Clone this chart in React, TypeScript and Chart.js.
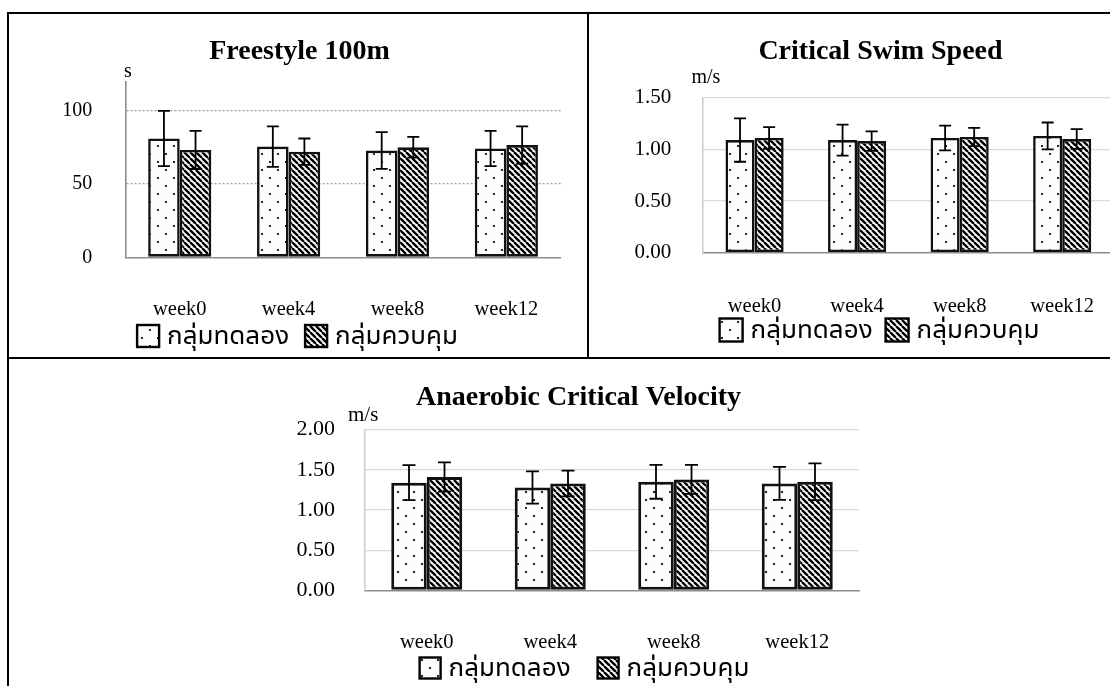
import React, { useEffect, useRef } from 'react';
import { Chart, registerables } from 'chart.js';

Chart.register(...registerables);

// ---------------- data ----------------
const categories = ['week0', 'week4', 'week8', 'week12'];
const seriesNames = ['กลุ่มทดลอง', 'กลุ่มควบคุม'];

// Freestyle 100m (s)
const fsExpMean = [81, 75.5, 72.8, 74.2];
const fsExpSd = [18.8, 13.8, 12.5, 12];
const fsCtrlMean = [73.2, 72, 75, 76.5];
const fsCtrlSd = [13, 9, 7.1, 12.7];
const fsTicks = [0, 50, 100];

// Critical Swim Speed (m/s)
const cssExpMean = [1.09, 1.09, 1.11, 1.13];
const cssExpSd = [0.21, 0.15, 0.12, 0.13];
const cssCtrlMean = [1.11, 1.08, 1.12, 1.1];
const cssCtrlSd = [0.105, 0.094, 0.088, 0.096];
const cssTicks = [0, 0.5, 1, 1.5];

// Anaerobic Critical Velocity (m/s)
const acvExpMean = [1.34, 1.28, 1.35, 1.33];
const acvExpSd = [0.217, 0.2, 0.21, 0.205];
const acvCtrlMean = [1.41, 1.33, 1.38, 1.35];
const acvCtrlSd = [0.182, 0.16, 0.18, 0.228];
const acvTicks = [0, 0.5, 1, 1.5, 2];

// ---------------- styles ----------------
const SERIF = '"Liberation Serif", "Times New Roman", Times, serif';
const THAI =
  '"Noto Sans Thai UI", "Noto Sans Thai", "Leelawadee UI", Tahoma, Loma, Garuda, Waree, "Noto Sans", sans-serif';

function makeDots(): CanvasPattern {
  const c = document.createElement('canvas');
  c.width = 16;
  c.height = 16;
  const g = c.getContext('2d')!;
  g.fillStyle = '#fcfcfc';
  g.fillRect(0, 0, 16, 16);
  g.fillStyle = '#222';
  g.fillRect(3, 3, 2, 2);
  g.fillRect(11, 11, 2, 2);
  return g.createPattern(c, 'repeat')!;
}

function makeStripes(): CanvasPattern {
  const s = 6;
  const c = document.createElement('canvas');
  c.width = s;
  c.height = s;
  const g = c.getContext('2d')!;
  g.fillStyle = '#fff';
  g.fillRect(0, 0, s, s);
  g.strokeStyle = '#000';
  g.lineWidth = 2.4;
  g.beginPath();
  for (const k of [-1, 0, 1]) {
    g.moveTo(k * s, 0);
    g.lineTo(k * s + s, s);
  }
  g.stroke();
  return g.createPattern(c, 'repeat')!;
}

type Spec = {
  title: string;
  titleSize: number;
  titleX: number;
  titleY: number;
  unit: string;
  unitSize: number;
  unitX: number;
  unitY: number;
  expMean: number[];
  expSd: number[];
  ctrlMean: number[];
  ctrlSd: number[];
  ticks: number[];
  max: number;
  decimals: number;
  dotted: boolean;
  gridColor: string;
  yAxisColor: string;
  canvas: { left: number; top: number; width: number; height: number };
  area: { left: number; right: number; top: number; bottom: number };
  catPct: number;
  barBorder: number;
  capW: number;
  tickSize: number;
  tickPad: number;
  xSize: number;
  xLabelY: number;
  legendX: number;
  legendY: number;
  legendGap: number;
  legendBox: number;
  legendSize: number;
};

const Y_W = 90;
const X_H = 70;

const specs: Spec[] = [
  {
    title: 'Freestyle 100m',
    titleSize: 28,
    titleX: 299.5,
    titleY: 52,
    unit: 's',
    unitSize: 20,
    unitX: 124,
    unitY: 72,
    expMean: fsExpMean,
    expSd: fsExpSd,
    ctrlMean: fsCtrlMean,
    ctrlSd: fsCtrlSd,
    ticks: fsTicks,
    max: 120,
    decimals: 0,
    dotted: true,
    gridColor: '#a0a0a0',
    yAxisColor: '#8c8c8c',
    canvas: { left: 10, top: 14, width: 576, height: 342 },
    area: { left: 125.3, right: 560.8, top: 81.3, bottom: 257.3 },
    catPct: 0.58,
    barBorder: 2.6,
    capW: 12,
    tickSize: 20,
    tickPad: 33,
    xSize: 20.5,
    xLabelY: 302,
    legendX: 297.5,
    legendY: 336,
    legendGap: 16,
    legendBox: 22,
    legendSize: 26,
  },
  {
    title: 'Critical Swim Speed',
    titleSize: 28,
    titleX: 880.5,
    titleY: 52,
    unit: 'm/s',
    unitSize: 20,
    unitX: 691.5,
    unitY: 78,
    expMean: cssExpMean,
    expSd: cssExpSd,
    ctrlMean: cssCtrlMean,
    ctrlSd: cssCtrlSd,
    ticks: cssTicks,
    max: 1.5,
    decimals: 2,
    dotted: false,
    gridColor: '#d9d9d9',
    yAxisColor: '#cfcfcf',
    canvas: { left: 590, top: 14, width: 540, height: 342 },
    area: { left: 703.3, right: 1114.5, top: 97.7, bottom: 252.7 },
    catPct: 0.567,
    barBorder: 2.6,
    capW: 12,
    tickSize: 21,
    tickPad: 32,
    xSize: 20.5,
    xLabelY: 299,
    legendX: 879.5,
    legendY: 330,
    legendGap: 13,
    legendBox: 23,
    legendSize: 26,
  },
  {
    title: 'Anaerobic Critical Velocity',
    titleSize: 28,
    titleX: 578.5,
    titleY: 398,
    unit: 'm/s',
    unitSize: 21,
    unitX: 348,
    unitY: 415,
    expMean: acvExpMean,
    expSd: acvExpSd,
    ctrlMean: acvCtrlMean,
    ctrlSd: acvCtrlSd,
    ticks: acvTicks,
    max: 2,
    decimals: 2,
    dotted: false,
    gridColor: '#d9d9d9',
    yAxisColor: '#cfcfcf',
    canvas: { left: 10, top: 360, width: 1100, height: 326 },
    area: { left: 365, right: 859, top: 429.5, bottom: 590.5 },
    catPct: 0.575,
    barBorder: 3,
    capW: 13,
    tickSize: 22,
    tickPad: 30,
    xSize: 20.5,
    xLabelY: 635,
    legendX: 584.5,
    legendY: 668,
    legendGap: 27,
    legendBox: 21,
    legendSize: 26,
  },
];

function buildChart(canvas: HTMLCanvasElement, sp: Spec): Chart {
  const dots = makeDots();
  const stripes = makeStripes();
  const cv = sp.canvas;
  const pad = {
    left: sp.area.left - cv.left - Y_W,
    right: cv.left + cv.width - sp.area.right,
    top: sp.area.top - cv.top,
    bottom: cv.top + cv.height - sp.area.bottom - X_H,
  };
  const xPad = sp.xLabelY - sp.area.bottom - sp.xSize * 0.6;

  const overlay = {
    id: 'overlay',
    afterDatasetsDraw(chart: any) {
      const ctx = chart.ctx as CanvasRenderingContext2D;
      const yScale = chart.scales.y;
      const groups = [
        { mean: sp.expMean, sd: sp.expSd },
        { mean: sp.ctrlMean, sd: sp.ctrlSd },
      ];
      const h = sp.capW / 2;
      ctx.save();
      ctx.strokeStyle = '#000';
      ctx.lineWidth = 1.8;
      groups.forEach((g, di) => {
        const meta = chart.getDatasetMeta(di);
        meta.data.forEach((el: any, i: number) => {
          const x = el.x;
          const yt = yScale.getPixelForValue(g.mean[i] + g.sd[i]);
          const yb = yScale.getPixelForValue(g.mean[i] - g.sd[i]);
          ctx.beginPath();
          ctx.moveTo(x, yt);
          ctx.lineTo(x, yb);
          ctx.moveTo(x - h, yt);
          ctx.lineTo(x + h, yt);
          ctx.moveTo(x - h, yb);
          ctx.lineTo(x + h, yb);
          ctx.stroke();
        });
      });
      ctx.restore();
    },
    afterDraw(chart: any) {
      const ctx = chart.ctx as CanvasRenderingContext2D;
      ctx.save();
      ctx.fillStyle = '#000';
      // title
      ctx.font = `bold ${sp.titleSize}px ${SERIF}`;
      ctx.textAlign = 'center';
      ctx.textBaseline = 'middle';
      ctx.fillText(sp.title, sp.titleX - cv.left, sp.titleY - cv.top);
      // unit
      ctx.font = `${sp.unitSize}px ${SERIF}`;
      ctx.textAlign = 'left';
      ctx.fillText(sp.unit, sp.unitX - cv.left, sp.unitY - cv.top);
      // legend
      ctx.font = `${sp.legendSize}px ${THAI}`;
      const B = sp.legendBox;
      const g1 = 8;
      const w1 = ctx.measureText(seriesNames[0]).width;
      const w2 = ctx.measureText(seriesNames[1]).width;
      const total = B + g1 + w1 + sp.legendGap + B + g1 + w2;
      let x = sp.legendX - cv.left - total / 2;
      const cy = sp.legendY - cv.top;
      const fills = [dots, stripes];
      [w1, w2].forEach((w, i) => {
        ctx.fillStyle = fills[i];
        ctx.fillRect(x, cy - B / 2, B, B);
        ctx.strokeStyle = '#000';
        ctx.lineWidth = 2.4;
        ctx.strokeRect(x, cy - B / 2, B, B);
        ctx.fillStyle = '#000';
        ctx.textAlign = 'left';
        ctx.textBaseline = 'middle';
        ctx.fillText(seriesNames[i], x + B + g1, cy + 1);
        x += B + g1 + w + sp.legendGap;
      });
      ctx.restore();
    },
  };

  const common = {
    borderColor: '#111',
    borderWidth: sp.barBorder,
    borderSkipped: false as const,
    categoryPercentage: sp.catPct,
    barPercentage: 1,
  };

  return new Chart(canvas, {
    type: 'bar',
    data: {
      labels: categories,
      datasets: [
        { label: seriesNames[0], data: sp.expMean, backgroundColor: dots as any, ...common },
        { label: seriesNames[1], data: sp.ctrlMean, backgroundColor: stripes as any, ...common },
      ],
    },
    options: {
      responsive: false,
      animation: false,
      devicePixelRatio: 1,
      layout: { padding: pad },
      plugins: {
        legend: { display: false },
        title: { display: false },
        tooltip: { enabled: false },
      },
      scales: {
        x: {
          grid: { display: false },
          border: { display: true, color: '#8c8c8c', width: 1.6 },
          ticks: {
            padding: xPad,
            color: '#000',
            font: { family: SERIF, size: sp.xSize },
            maxRotation: 0,
          },
          afterFit: (s: any) => {
            s.height = X_H;
          },
        },
        y: {
          min: 0,
          max: sp.max,
          grid: {
            drawTicks: false,
            lineWidth: 1.3,
            color: (c: any) =>
              c.tick && c.tick.value === 0 ? 'rgba(0,0,0,0)' : sp.gridColor,
          },
          border: {
            display: true,
            color: sp.yAxisColor,
            width: 1.6,
            dash: sp.dotted ? [2, 2] : [],
          },
          ticks: {
            padding: sp.tickPad,
            color: '#000',
            font: { family: SERIF, size: sp.tickSize },
            callback: (v: any) => Number(v).toFixed(sp.decimals),
          },
          afterBuildTicks: (s: any) => {
            s.ticks = sp.ticks.map((v) => ({ value: v }));
          },
          afterFit: (s: any) => {
            s.width = Y_W;
          },
        },
      },
    } as any,
    plugins: [overlay],
  });
}

function ChartCanvas({ spec }: { spec: Spec }) {
  const ref = useRef<HTMLCanvasElement>(null);
  useEffect(() => {
    if (!ref.current) return;
    const ch = buildChart(ref.current, spec);
    return () => ch.destroy();
  }, [spec]);
  const c = spec.canvas;
  return (
    <canvas
      ref={ref}
      width={c.width}
      height={c.height}
      style={{
        position: 'absolute',
        left: c.left,
        top: c.top,
        width: c.width,
        height: c.height,
      }}
    />
  );
}

const line = (left: number, top: number, width: number, height: number) => (
  <div
    style={{ position: 'absolute', left, top, width, height, background: '#000' }}
  />
);

export default function App() {
  return (
    <div
      style={{
        position: 'absolute',
        left: 0,
        top: 0,
        width: 1110,
        height: 686,
        overflow: 'hidden',
        background: '#fff',
      }}
    >
      {specs.map((s, i) => (
        <ChartCanvas key={i} spec={s} />
      ))}
      {line(7, 12, 1103, 2)}
      {line(7, 12, 2, 674)}
      {line(587, 12, 2, 346)}
      {line(7, 357, 1103, 2)}
    </div>
  );
}
